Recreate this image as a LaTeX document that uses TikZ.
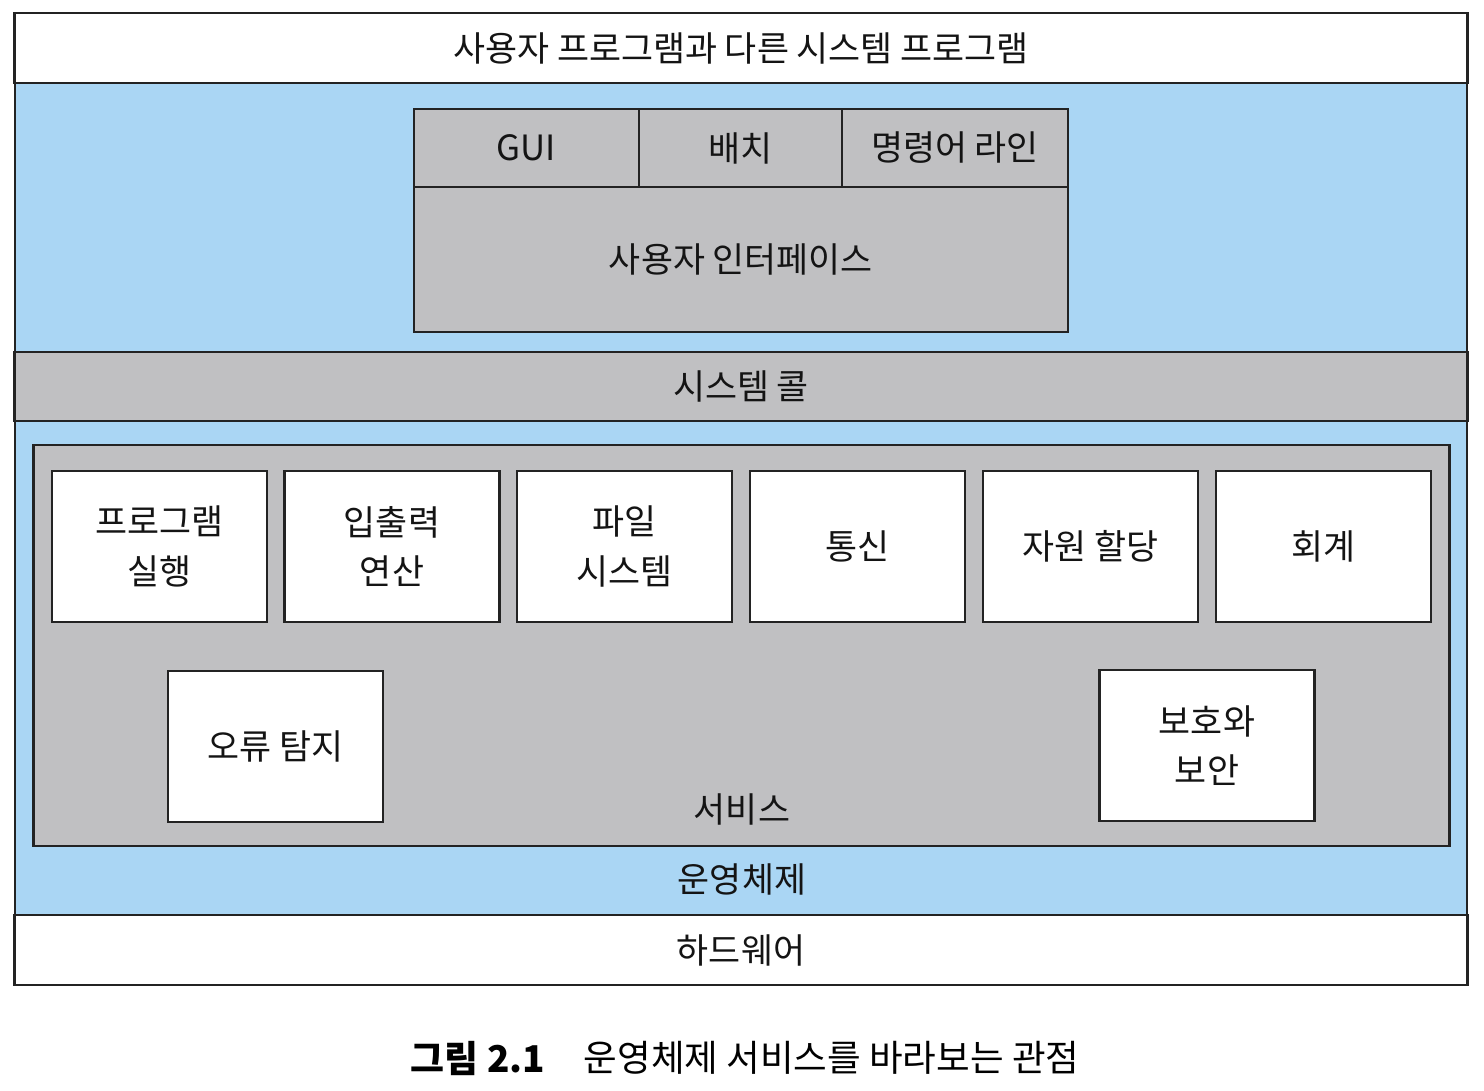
\documentclass[tikz,border=0pt]{standalone}
\usepackage{fontspec}
\setmainfont{Noto Sans CJK KR}
\usepackage{tikz}
\usetikzlibrary{positioning}
\usepackage{xcolor}
\definecolor{osblue}{RGB}{170,214,244}
\definecolor{layergray}{RGB}{192,192,194}
\definecolor{inkline}{RGB}{35,35,35}

\tikzset{
  lbl/.style={font=\fontsize{9.9}{14}\selectfont, text=black!92, align=center, inner sep=0pt},
  band/.style={draw=inkline, line width=0.7pt, minimum width=14.52cm, minimum height=0.70cm, lbl},
  uicell/.style={draw=inkline, line width=0.7pt, fill=layergray, minimum height=0.78cm, lbl},
  svcbox/.style={draw=inkline, line width=0.7pt, fill=white, minimum width=2.15cm, minimum height=1.51cm, lbl}
}

\begin{document}
\begin{tikzpicture}[x=0.01cm, y=-0.01cm]
  \useasboundingbox (0,0) rectangle (1484,1090);
  % operating system layer
  \draw[inkline, line width=0.7pt, fill=osblue] (15,82) rectangle (1467,915);
  \node[band, fill=white] (apps) at (741,48) {사용자 프로그램과 다른 시스템 프로그램};
  \node[band, fill=layergray, minimum height=0.69cm] (syscall) at (741,386.5) {시스템 콜};
  \node[band, fill=white] (hw) at (741,950) {하드웨어};
  \node[lbl] (os) at (742,879) {운영체제};
  % user interfaces
  \node[uicell, minimum width=2.25cm] (gui) at (526.5,148) {GUI};
  \node[uicell, minimum width=2.03cm] (batch) at (740.5,148) {배치};
  \node[uicell, minimum width=2.26cm] (cli) at (955,148) {명령어 라인};
  \node[uicell, minimum width=6.54cm, minimum height=1.45cm] (ui) at (741,259.5) {사용자 인터페이스};
  % services
  \node[draw=inkline, line width=0.7pt, fill=layergray, minimum width=14.15cm, minimum height=4.01cm] (services) at (741.5,645.5) {};
  \node[lbl] (svclbl) at (742,809) {서비스};
  \node[svcbox] (exec) at (159.5,546.5) {프로그램\\실행};
  \node[svcbox] (io) at (392,546.5) {입출력\\연산};
  \node[svcbox] (fs) at (624.5,546.5) {파일\\시스템};
  \node[svcbox] (comm) at (857.5,546.5) {통신};
  \node[svcbox] (alloc) at (1090.5,546.5) {자원 할당};
  \node[svcbox] (acct) at (1323.5,546.5) {회계};
  \node[svcbox] (err) at (275.5,746.5) {오류 탐지};
  \node[svcbox] (prot) at (1207,745.5) {보호와\\보안};
  % caption
  \node[font=\fontsize{10.5}{12}\bfseries\selectfont, inner sep=0pt] (figno) at (478,1058) {그림 2.1};
  \node[font=\fontsize{10.4}{12}\selectfont, anchor=west, inner sep=0pt] (figtitle) at (583,1058) {운영체제 서비스를 바라보는 관점};
\end{tikzpicture}
\end{document}
